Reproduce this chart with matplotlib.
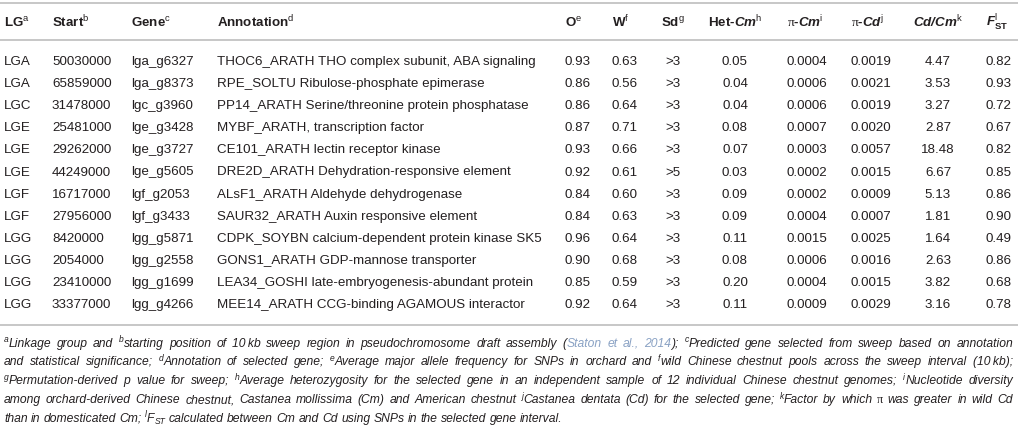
import matplotlib
matplotlib.use("Agg")
import matplotlib.pyplot as plt
from matplotlib.font_manager import FontProperties

plt.rcParams["mathtext.fontset"] = "custom"
plt.rcParams["mathtext.rm"] = "Liberation Sans"
plt.rcParams["mathtext.it"] = "Liberation Sans:italic"
plt.rcParams["mathtext.bf"] = "Liberation Sans:bold"
plt.rcParams["mathtext.cal"] = "Liberation Serif"
try:
    plt.rcParams["mathtext.bfit"] = "Liberation Sans:italic:bold"
except KeyError:
    pass

# ---------------- data ----------------
lg = ["LGA", "LGA", "LGC", "LGE", "LGE", "LGE", "LGF", "LGF", "LGG", "LGG", "LGG", "LGG"]
start = [50030000, 65859000, 31478000, 25481000, 29262000, 44249000, 16717000, 27956000,
         8420000, 2054000, 23410000, 33377000]
gene = ["lga_g6327", "lga_g8373", "lgc_g3960", "lge_g3428", "lge_g3727", "lge_g5605",
        "lgf_g2053", "lgf_g3433", "lgg_g5871", "lgg_g2558", "lgg_g1699", "lgg_g4266"]
annotation = [
    "THOC6_ARATH THO complex subunit, ABA signaling",
    "RPE_SOLTU Ribulose-phosphate epimerase",
    "PP14_ARATH Serine/threonine protein phosphatase",
    "MYBF_ARATH, transcription factor",
    "CE101_ARATH lectin receptor kinase",
    "DRE2D_ARATH Dehydration-responsive element",
    "ALsF1_ARATH Aldehyde dehydrogenase",
    "SAUR32_ARATH Auxin responsive element",
    "CDPK_SOYBN calcium-dependent protein kinase SK5",
    "GONS1_ARATH GDP-mannose transporter",
    "LEA34_GOSHI late-embryogenesis-abundant protein",
    "MEE14_ARATH CCG-binding AGAMOUS interactor",
]
o_freq = [0.93, 0.86, 0.86, 0.87, 0.93, 0.92, 0.84, 0.84, 0.96, 0.90, 0.85, 0.92]
w_freq = [0.63, 0.56, 0.64, 0.71, 0.66, 0.61, 0.60, 0.63, 0.64, 0.68, 0.59, 0.64]
sd = [">3", ">3", ">3", ">3", ">3", ">5", ">3", ">3", ">3", ">3", ">3", ">3"]
het_cm = [0.05, 0.04, 0.04, 0.08, 0.07, 0.03, 0.09, 0.09, 0.11, 0.08, 0.20, 0.11]
pi_cm = [0.0004, 0.0006, 0.0006, 0.0007, 0.0003, 0.0002, 0.0002, 0.0004, 0.0015, 0.0006, 0.0004, 0.0009]
pi_cd = [0.0019, 0.0021, 0.0019, 0.0020, 0.0057, 0.0015, 0.0009, 0.0007, 0.0025, 0.0016, 0.0015, 0.0029]
cd_cm = [4.47, 3.53, 3.27, 2.87, 18.48, 6.67, 5.13, 1.81, 1.64, 2.63, 3.82, 3.16]
fst = [0.82, 0.93, 0.72, 0.67, 0.82, 0.85, 0.86, 0.90, 0.49, 0.86, 0.68, 0.78]

headers = [
    r"LG$^{\mathrm{a}}$", r"Start$^{\mathrm{b}}$", r"Gene$^{\mathrm{c}}$",
    r"Annotation$^{\mathrm{d}}$", r"O$^{\mathrm{e}}$", r"W$^{\mathrm{f}}$",
    r"Sd$^{\mathrm{g}}$", r"Het-$\mathbfit{Cm}^{\mathrm{h}}$",
    r"$\mathcal{π}$-$\mathbfit{Cm}^{\mathrm{i}}$", r"$\mathcal{π}$-$\mathbfit{Cd}^{\mathrm{j}}$",
    r"$\mathbfit{Cd/Cm}^{\mathrm{k}}$", r"$\mathbfit{F}^{\mathrm{l}}_{\mathbf{ST}}$",
]

# footnote markup: ^x superscript, _{..} subscript, <..> citation link, π serif
footnotes = [
    "^aLinkage group and ^bstarting position of 10\u2009kb sweep region in pseudochromosome "
    "draft assembly (<Staton et al., 2014>); ^cPredicted gene selected from sweep based on annotation",
    "and statistical significance; ^dAnnotation of selected gene; ^eAverage major allele frequency "
    "for SNPs in orchard and ^fwild Chinese chestnut pools across the sweep interval (10\u2009kb);",
    "^gPermutation-derived p value for sweep; ^hAverage heterozygosity for the selected gene in an "
    "independent sample of 12 individual Chinese chestnut genomes; ^iNucleotide diversity",
    "among orchard-derived Chinese chestnut, Castanea mollissima (Cm) and American chestnut "
    "^jCastanea dentata (Cd) for the selected gene; ^kFactor by which π was greater in wild Cd",
    "than in domesticated Cm; ^lF_{ST} calculated between Cm and Cd using SNPs in the selected "
    "gene interval.",
]

# ---------------- layout / style ----------------
W_PX, H_PX = 1018, 434
SANS = ["Liberation Sans", "DejaVu Sans"]
SERIF = ["Liberation Serif", "DejaVu Serif"]
TXT = "#231f20"
LINK = "#8aa2c4"
RULE = "#bdbdbd"
BODY_PT = 9.6
FOOT_PT = 8.75
PT2PX = 100 / 72.0

col_x = [4, 52, 131, 217, 565, 612, 673, 735, 787, 851, 938, 986]
col_ha = ["left", "left", "left", "left", "left", "left", "center", "center",
          "left", "left", "center", "left"]

fig = plt.figure(figsize=(W_PX / 100, H_PX / 100), dpi=100)
ax = fig.add_axes([0, 0, 1, 1])
ax.set_xlim(0, W_PX)
ax.set_ylim(H_PX, 0)
ax.axis("off")
renderer = fig.canvas.get_renderer()

# ---------------- rules ----------------
for yr in (3, 40, 325):
    ax.plot([0, W_PX], [yr, yr], color=RULE, lw=1.2, solid_capstyle="butt")

# ---------------- header ----------------
head_base = 22 + 0.36 * BODY_PT * PT2PX
for lab, x, ha in zip(headers, col_x, col_ha):
    ax.text(x, head_base, lab, fontsize=BODY_PT, family=SANS, weight="bold",
            color=TXT, ha=ha, va="baseline")

# ---------------- body ----------------
row_y0, row_dy = 60.5, 22.1
for i in range(len(lg)):
    vals = [lg[i], str(start[i]), gene[i], annotation[i], f"{o_freq[i]:.2f}",
            f"{w_freq[i]:.2f}", sd[i], f"{het_cm[i]:.2f}", f"{pi_cm[i]:.4f}",
            f"{pi_cd[i]:.4f}", f"{cd_cm[i]:.2f}", f"{fst[i]:.2f}"]
    y = row_y0 + i * row_dy
    for v, x, ha in zip(vals, col_x, col_ha):
        ax.text(x, y, v, fontsize=BODY_PT, family=SANS, color=TXT, ha=ha,
                va="center_baseline")

# ---------------- footnotes (justified, italic) ----------------
foot_left, foot_right = 4, 1013
foot_y0, foot_dy = 343, 18.8
EM = FOOT_PT * PT2PX


def fprop(kind, serif):
    size = FOOT_PT * (0.7 if kind in ("sup", "sub") else 1.0)
    return FontProperties(family=SERIF if serif else SANS,
                          style="normal" if serif else "italic", size=size)


def advance(s, fp):
    a = renderer.get_text_width_height_descent("|" + s + "|", fp, ismath=False)[0]
    b = renderer.get_text_width_height_descent("||", fp, ismath=False)[0]
    return a - b


def parse_word(wd, link):
    segs = []
    buf = ""
    i = 0

    def flush():
        nonlocal buf
        if buf:
            segs.append((buf, "n", False, link))
            buf = ""

    while i < len(wd):
        c = wd[i]
        if c == "^":
            flush()
            segs.append((wd[i + 1], "sup", False, link))
            i += 2
        elif c == "_" and i + 1 < len(wd) and wd[i + 1] == "{":
            flush()
            j = wd.index("}", i)
            segs.append((wd[i + 2:j], "sub", False, link))
            i = j + 1
        elif c == "<" and not link:
            flush()
            link = True
            i += 1
        elif c == ">" and link:
            flush()
            link = False
            i += 1
        elif c == "π":
            flush()
            segs.append(("π", "n", True, link))
            i += 1
        else:
            buf += c
            i += 1
    flush()
    return segs, link


space_adv = advance(" ", fprop("n", False))
dy_kind = {"n": 0.0, "sup": -0.36 * EM, "sub": 0.2 * EM}

for li, line in enumerate(footnotes):
    link = False
    words = []
    for wd in line.split(" "):
        segs, link = parse_word(wd, link)
        pieces = []
        wsum = 0.0
        for txt, kind, serif, lk in segs:
            fp = fprop(kind, serif)
            pieces.append((txt, kind, fp, lk, wsum))
            wsum += advance(txt, fp)
        words.append((pieces, wsum))
    total = sum(w for _, w in words)
    last = li == len(footnotes) - 1
    gap = space_adv if last else (foot_right - foot_left - total) / (len(words) - 1)
    baseline = foot_y0 + li * foot_dy + 0.3 * EM
    x = foot_left
    for pieces, w in words:
        for txt, kind, fp, lk, dx in pieces:
            ax.text(x + dx, baseline + dy_kind[kind], txt, fontproperties=fp,
                    color=LINK if lk else TXT, ha="left", va="baseline")
        x += w + gap

fig.savefig("out.png", dpi=100, facecolor="white")
